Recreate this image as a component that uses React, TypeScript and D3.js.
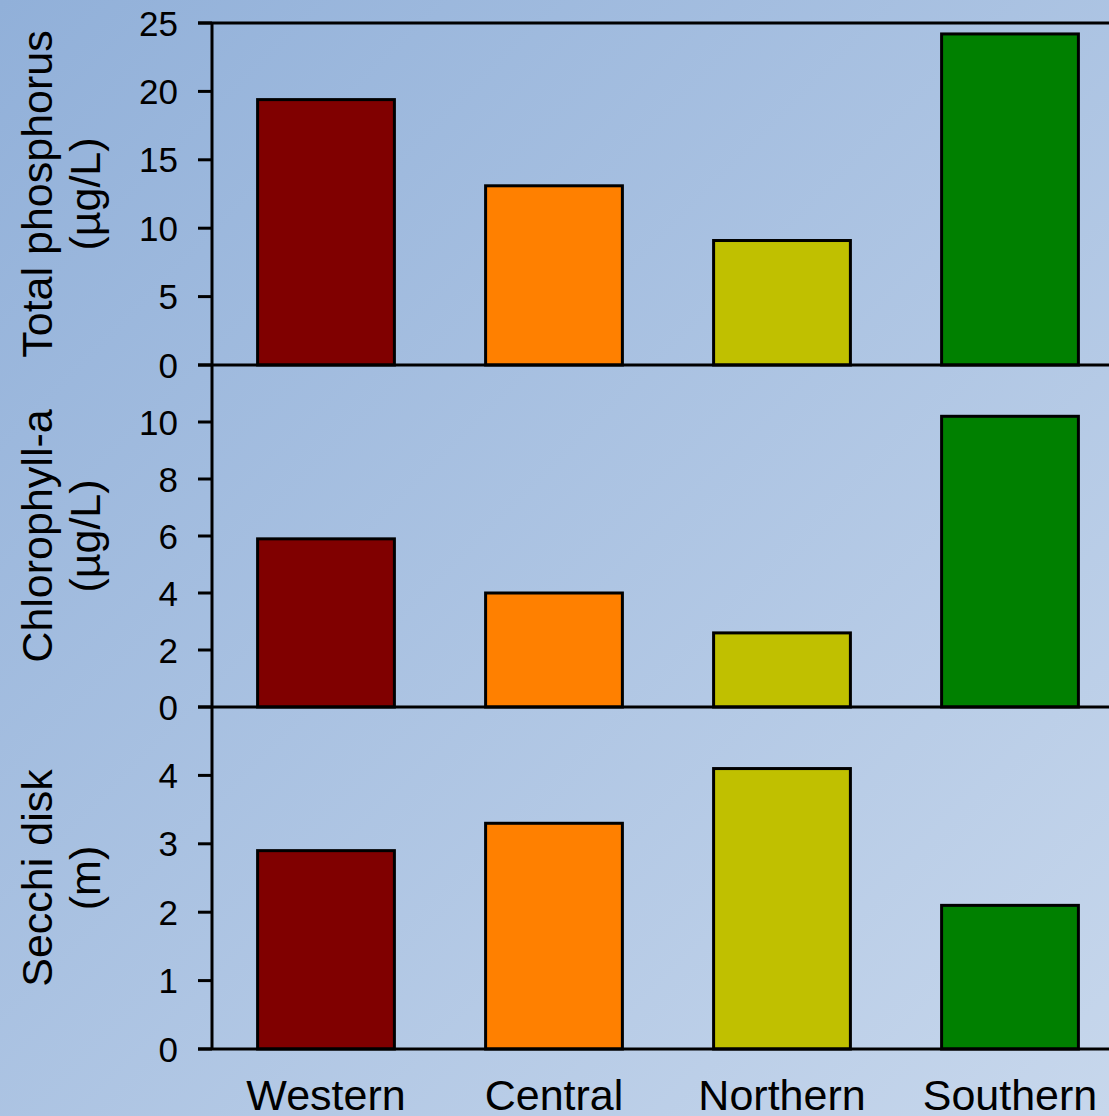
import React from "react";
import * as d3 from "d3";

const categories = ["Western", "Central", "Northern", "Southern"];
const colors = ["#800000", "#ff8000", "#c0c000", "#008000"];
const phosphorus = [19.4, 13.1, 9.1, 24.2];
const chlorophyll = [5.9, 4.0, 2.6, 10.2];
const secchi = [2.9, 3.3, 4.1, 2.1];
const phosphorusTicks = [0, 5, 10, 15, 20, 25];
const chlorophyllTicks = [0, 2, 4, 6, 8, 10];
const secchiTicks = [0, 1, 2, 3, 4];

const W = 1109;
const H = 1116;
const left = 212;
const right = 1124;

const panels = [
  { values: phosphorus, ticks: phosphorusTicks, max: 25, top: 23, bottom: 365, title: ["Total phosphorus", "(µg/L)"] },
  { values: chlorophyll, ticks: chlorophyllTicks, max: 12, top: 365, bottom: 707, title: ["Chlorophyll-a", "(µg/L)"] },
  { values: secchi, ticks: secchiTicks, max: 5, top: 707, bottom: 1049, title: ["Secchi disk", "(m)"] },
];

export default function App() {
  const x = d3.scaleBand<string>().domain(categories).range([left, right]).paddingInner(0.4).paddingOuter(0.2);
  const font = "'Liberation Sans', Arial, sans-serif";
  return (
    <svg width={W} height={H} style={{ position: "absolute", left: 0, top: 0 }} fontFamily={font}>
      <defs>
        <linearGradient id="bg" x1="0" y1="0" x2="1" y2="1">
          <stop offset="0" stopColor="#91b0d9" />
          <stop offset="1" stopColor="#c7d7ec" />
        </linearGradient>
      </defs>
      <rect x={0} y={0} width={W} height={H} fill="url(#bg)" />
      {panels.map((p, pi) => {
        const y = d3.scaleLinear().domain([0, p.max]).range([p.bottom, p.top]);
        const cy = (p.top + p.bottom) / 2;
        return (
          <g key={pi}>
            {p.values.map((v, i) => (
              <rect
                key={i}
                x={x(categories[i])!}
                y={y(v)}
                width={x.bandwidth()}
                height={y(0) - y(v)}
                fill={colors[i]}
                stroke="#000"
                strokeWidth={3}
              />
            ))}
            <line x1={198} x2={W} y1={y(0)} y2={y(0)} stroke="#000" strokeWidth={3} />
            {p.ticks.map((t) => (
              <g key={t}>
                <line x1={198} x2={left} y1={y(t)} y2={y(t)} stroke="#000" strokeWidth={3} />
                <text x={178} y={y(t)} dy="0.36em" textAnchor="end" fontSize={35} fill="#000">
                  {t}
                </text>
              </g>
            ))}
            <text transform={`translate(52,${cy}) rotate(-90)`} textAnchor="middle" fontSize={43} fill="#000">
              {p.title[0]}
            </text>
            <text transform={`translate(100,${cy}) rotate(-90)`} textAnchor="middle" fontSize={43} fill="#000">
              {p.title[1]}
            </text>
          </g>
        );
      })}
      <line x1={198} x2={W} y1={23} y2={23} stroke="#000" strokeWidth={3} />
      <line x1={left} x2={left} y1={23} y2={1049} stroke="#000" strokeWidth={3} />
      {categories.map((c) => (
        <text key={c} x={x(c)! + x.bandwidth() / 2} y={1110} textAnchor="middle" fontSize={43} fill="#000">
          {c}
        </text>
      ))}
    </svg>
  );
}
